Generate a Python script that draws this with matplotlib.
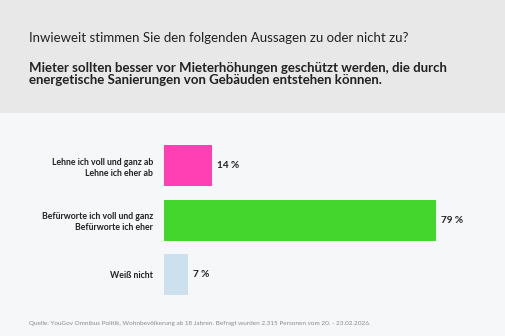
import matplotlib.pyplot as plt
from matplotlib.patches import Rectangle

categories = ['Lehne ich voll und ganz ab\nLehne ich eher ab',
              'Befürworte ich voll und ganz\nBefürworte ich eher',
              'Weiß nicht']
values = [14, 79, 7]
colors = ['#ff40b4', '#45d62e', '#cde0ee']

question = 'Inwieweit stimmen Sie den folgenden Aussagen zu oder nicht zu?'
title = ('Mieter sollten besser vor Mieterhöhungen geschützt werden, die durch\n'
         'energetische Sanierungen von Gebäuden entstehen können.')
source = ('Quelle: YouGov Omnibus Politik, Wohnbevölkerung ab 18 Jahren. '
          'Befragt wurden 2.315 Personen vom 20. - 23.02.2026.')

plt.rcParams['font.family'] = ['Lato', 'DejaVu Sans']

W, H = 505, 336
fig = plt.figure(figsize=(W / 100, H / 100), dpi=100)
fig.patch.set_facecolor('#f6f7f9')

# grey header band
fig.patches.append(Rectangle((0, 1 - 113 / H), 1, 113 / H, transform=fig.transFigure,
                             facecolor='#e8e8e8', edgecolor='none', zorder=0))

fig.text(29 / W, 1 - 38 / H, question, fontsize=9.5, color='#222222', va='center')
fig.text(29 / W, 1 - 74 / H, title, fontsize=9.5, fontweight='bold', color='#222222',
         va='center', linespacing=1.1)
fig.text(29 / W, 1 - 323 / H, source, fontsize=4.6, color='#8a8a8a', va='center')

x0 = 164
right = 490
ax = fig.add_axes([x0 / W, 1 - 302.25 / H, (right - x0) / W, 164 / H])
ax.set_facecolor('none')
ax.barh(range(len(values)), values, height=0.75, color=colors)
ax.set_xlim(0, (right - x0) / 3.443)
ax.set_ylim(2.5, -0.5)

for i, v in enumerate(values):
    ax.text(v + 1.5, i, f'{v} %', va='center', ha='left', fontsize=7.2,
            fontweight='bold', color='#222222')

ax.set_yticks(range(len(categories)))
ax.set_yticklabels(categories, fontsize=6.3, fontweight='bold', color='#222222',
                   linespacing=1.3)
ax.tick_params(axis='y', length=0, pad=8)
ax.set_xticks([])
for s in ax.spines.values():
    s.set_visible(False)

fig.savefig('out.png', dpi=100, facecolor=fig.get_facecolor())
